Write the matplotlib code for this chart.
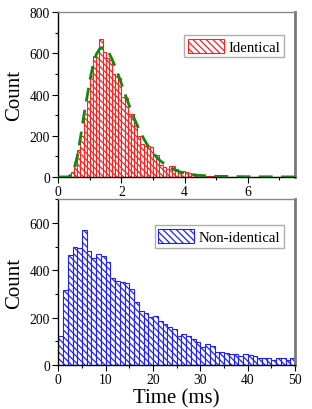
import matplotlib
matplotlib.use("Agg")
import matplotlib.pyplot as plt
import numpy as np
from matplotlib.ticker import MultipleLocator

plt.rcParams['font.family'] = ['Liberation Serif', 'DejaVu Serif']
plt.rcParams['hatch.linewidth'] = 0.9

# ---- Data: identical (bin width 0.1 ms, starting at 0) ----
ident_bin_width = 0.1
ident_counts = [0, 0, 0, 8, 25, 60, 130, 200, 305, 370,
                490, 585, 605, 670, 605, 575, 570, 500, 490, 480,
                390, 385, 305, 305, 245, 200, 160, 150, 150, 145,
                105, 105, 60, 50, 40, 55, 55, 40, 22, 28,
                25, 18, 14, 12, 10, 8, 6, 5, 4, 3,
                2, 2, 1, 1, 1, 1, 0, 1, 0, 0,
                0, 0, 0, 0, 0, 0, 0, 0, 0, 0,
                0, 0, 0, 0, 0]
fit_x = [0.0, 0.35, 0.5, 0.6, 0.7, 0.8, 0.9, 1.0, 1.1, 1.2, 1.3, 1.4, 1.5, 1.6,
         1.7, 1.8, 1.9, 2.0, 2.2, 2.4, 2.6, 2.8, 3.0, 3.2, 3.4, 3.6, 3.8, 4.0,
         4.4, 5.0, 6.0, 7.5]
fit_y = [0, 0, 40, 100, 190, 290, 380, 470, 545, 595, 620, 628, 622, 603,
         572, 535, 495, 452, 365, 285, 215, 160, 115, 82, 58, 40, 27, 18,
         8, 3, 1, 0]

# ---- Data: non-identical (bin width 1 ms) ----
nonid_bin_width = 1.0
nonid_counts = [124, 315, 463, 498, 494, 568, 481, 452, 469, 460,
                433, 367, 354, 352, 346, 323, 267, 229, 219, 205,
                208, 185, 175, 162, 151, 121, 130, 124, 109, 96,
                78, 90, 80, 55, 54, 52, 49, 47, 40, 47,
                44, 40, 31, 30, 32, 23, 28, 31, 21, 31]

fig = plt.figure(figsize=(3.12, 4.10), dpi=100)
ax1 = fig.add_axes([0.187, 0.566, 0.759, 0.402])
ax2 = fig.add_axes([0.187, 0.107, 0.759, 0.405])

def style(ax):
    for s in ['left', 'bottom']:
        ax.spines[s].set_linewidth(1.0)
        ax.spines[s].set_color('black')
    ax.spines['top'].set_color('#888888')
    ax.spines['top'].set_linewidth(1.0)
    ax.spines['right'].set_color('#777777')
    ax.spines['right'].set_linewidth(2.0)
    ax.tick_params(which='both', direction='out', top=False, right=False,
                   labelsize=9.8, pad=2)
    ax.tick_params(which='major', length=4, width=0.8)
    ax.tick_params(which='minor', length=2, width=0.8)
    ax.set_ylabel('Count', fontsize=15, labelpad=4)

# Top panel
x1 = np.arange(len(ident_counts)) * ident_bin_width
ax1.bar(x1, ident_counts, width=ident_bin_width, align='edge',
        facecolor='white', edgecolor='#ff2020', linewidth=0.8,
        hatch='\\' * 5, label='Identical')
ax1.plot(fit_x, fit_y, color='#118811', linewidth=2.0, dashes=(5, 3), zorder=3)
ax1.set_xlim(0, 7.5)
ax1.set_ylim(0, 800)
ax1.xaxis.set_major_locator(MultipleLocator(2))
ax1.xaxis.set_minor_locator(MultipleLocator(1))
ax1.yaxis.set_major_locator(MultipleLocator(200))
ax1.yaxis.set_minor_locator(MultipleLocator(100))
style(ax1)
leg1 = ax1.legend(loc='upper right', bbox_to_anchor=(0.952, 0.862), fontsize=10.7,
                  frameon=True, fancybox=False, edgecolor='#999999',
                  handlelength=2.4, handleheight=1.1, borderpad=0.25,
                  handletextpad=0.3, borderaxespad=0.0)
leg1.get_frame().set_linewidth(1.0)

# Bottom panel
x2 = np.arange(len(nonid_counts)) * nonid_bin_width
ax2.bar(x2, nonid_counts, width=nonid_bin_width, align='edge',
        facecolor='white', edgecolor='#2020ff', linewidth=0.8,
        hatch='\\' * 5, label='Non-identical')
ax2.set_xlim(0, 50)
ax2.set_ylim(0, 700)
ax2.xaxis.set_major_locator(MultipleLocator(10))
ax2.xaxis.set_minor_locator(MultipleLocator(5))
ax2.yaxis.set_major_locator(MultipleLocator(200))
ax2.yaxis.set_minor_locator(MultipleLocator(100))
style(ax2)
ax2.set_xlabel('Time (ms)', fontsize=15, labelpad=1)
leg2 = ax2.legend(loc='upper right', bbox_to_anchor=(0.952, 0.842), fontsize=10.7,
                  frameon=True, fancybox=False, edgecolor='#999999',
                  handlelength=2.4, handleheight=1.1, borderpad=0.25,
                  handletextpad=0.3, borderaxespad=0.0)
leg2.get_frame().set_linewidth(1.0)

fig.savefig('out.png', dpi=100)
